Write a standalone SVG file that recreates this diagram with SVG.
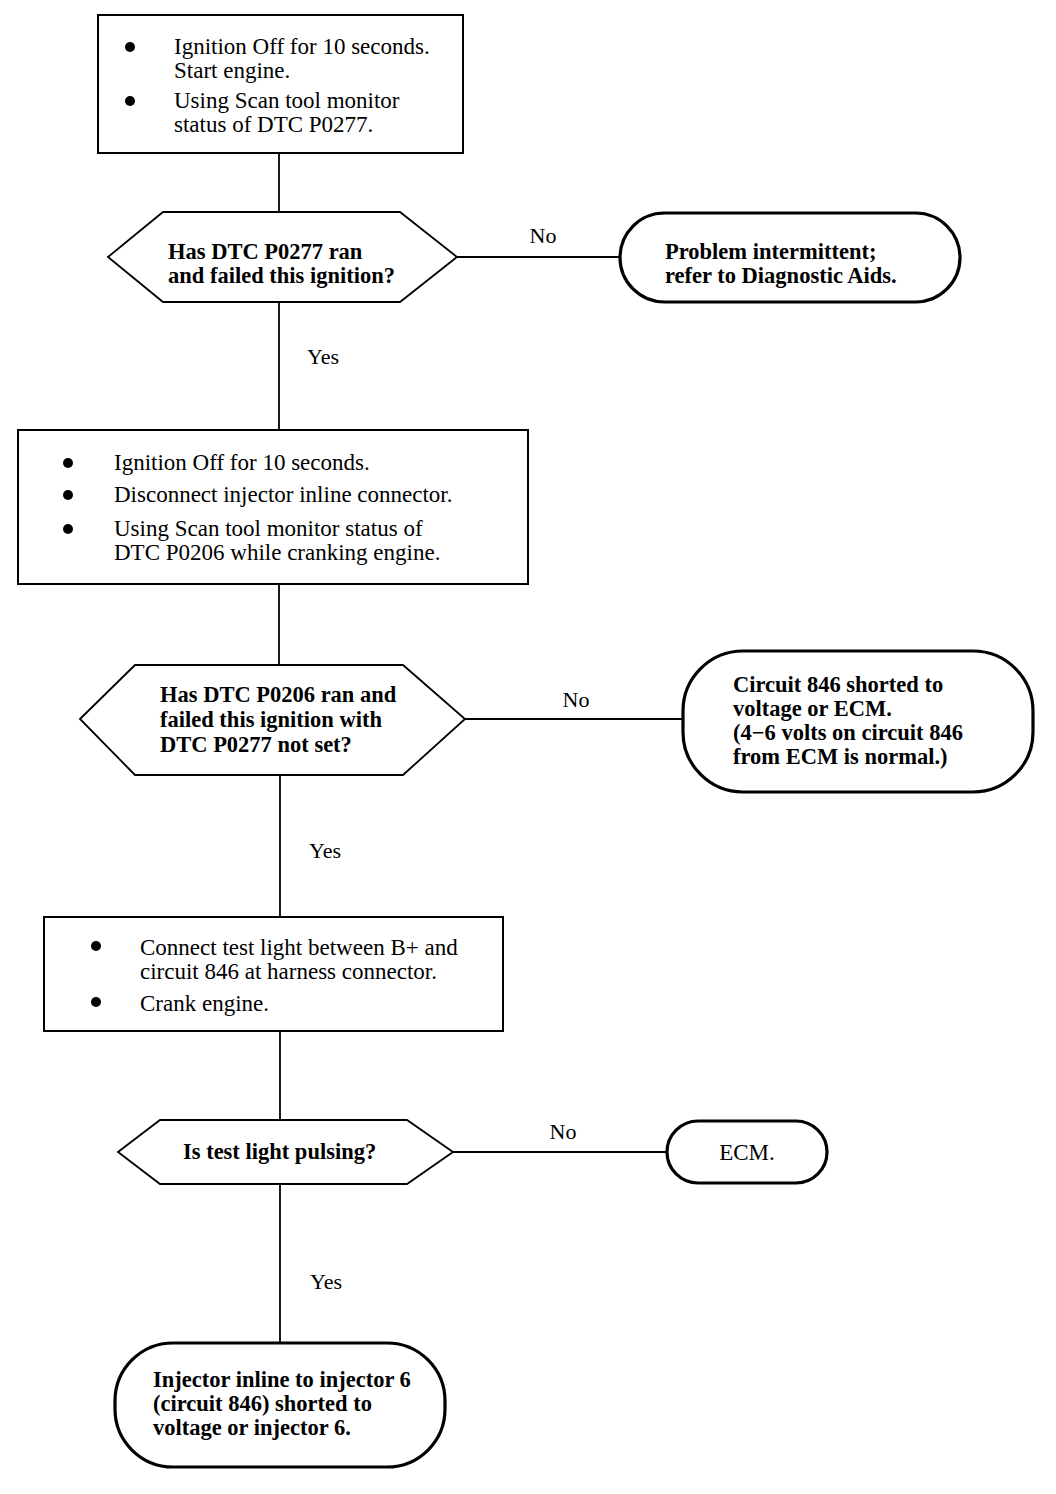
<svg xmlns="http://www.w3.org/2000/svg" width="1056" height="1494" viewBox="0 0 1056 1494">
<style>
.box{fill:#fff;stroke:#000;stroke-width:2}
.term{fill:#fff;stroke:#000;stroke-width:3.2}
.dec{fill:#fff;stroke:#000;stroke-width:1.8}
.ln{stroke:#000;stroke-width:1.8;fill:none}
text{font-family:"Liberation Serif","Times New Roman",serif;font-size:23px;fill:#000}
.b{font-weight:bold;font-size:22.5px}
.lbl{font-size:22px}
.dot{fill:#000}
</style>
<rect width="1056" height="1494" fill="#fff"/>
<g id="connectors">
<line class="ln" x1="279" y1="153" x2="279" y2="212"/>
<line class="ln" x1="457" y1="257" x2="620" y2="257"/>
<text class="lbl" x="543" y="243" text-anchor="middle">No</text>
<line class="ln" x1="279" y1="302" x2="279" y2="430"/>
<text class="lbl" x="323" y="364" text-anchor="middle">Yes</text>
<line class="ln" x1="279" y1="584" x2="279" y2="665"/>
<line class="ln" x1="465" y1="719" x2="683" y2="719"/>
<text class="lbl" x="576" y="707" text-anchor="middle">No</text>
<line class="ln" x1="280" y1="775" x2="280" y2="917"/>
<text class="lbl" x="325" y="858" text-anchor="middle">Yes</text>
<line class="ln" x1="280" y1="1031" x2="280" y2="1120"/>
<line class="ln" x1="453" y1="1152" x2="667" y2="1152"/>
<text class="lbl" x="563" y="1139" text-anchor="middle">No</text>
<line class="ln" x1="280" y1="1184" x2="280" y2="1343"/>
<text class="lbl" x="326" y="1289" text-anchor="middle">Yes</text>
</g>
<g id="step1">
<rect class="box" x="98" y="15" width="365" height="138"/>
<circle class="dot" cx="130" cy="47" r="5"/>
<circle class="dot" cx="130" cy="101" r="5"/>
<text x="174" y="54">Ignition Off for 10 seconds.</text>
<text x="174" y="78">Start engine.</text>
<text x="174" y="108">Using Scan tool monitor</text>
<text x="174" y="132">status of DTC P0277.</text>
</g>
<g id="decision1">
<polygon class="dec" points="108,257 163,212 400,212 457,257 400,302 163,302"/>
<text class="b" x="168" y="259">Has DTC P0277 ran</text>
<text class="b" x="168" y="283">and failed this ignition?</text>
</g>
<g id="result1">
<rect class="term" x="620" y="213" width="340" height="89" rx="44.5"/>
<text class="b" x="665" y="259">Problem intermittent;</text>
<text class="b" x="665" y="283">refer to Diagnostic Aids.</text>
</g>
<g id="step2">
<rect class="box" x="18" y="430" width="510" height="154"/>
<circle class="dot" cx="68" cy="463" r="5"/>
<circle class="dot" cx="68" cy="495" r="5"/>
<circle class="dot" cx="68" cy="529" r="5"/>
<text x="114" y="470">Ignition Off for 10 seconds.</text>
<text x="114" y="502">Disconnect injector inline connector.</text>
<text x="114" y="536">Using Scan tool monitor status of</text>
<text x="114" y="560">DTC P0206 while cranking engine.</text>
</g>
<g id="decision2">
<polygon class="dec" points="80,719 135,665 403,665 465,719 403,775 135,775"/>
<text class="b" x="160" y="702">Has DTC P0206 ran and</text>
<text class="b" x="160" y="727">failed this ignition with</text>
<text class="b" x="160" y="752">DTC P0277 not set?</text>
</g>
<g id="result2">
<rect class="term" x="683" y="651" width="350" height="141" rx="60"/>
<text class="b" x="733" y="692">Circuit 846 shorted to</text>
<text class="b" x="733" y="716">voltage or ECM.</text>
<text class="b" x="733" y="740">(4−6 volts on circuit 846</text>
<text class="b" x="733" y="764">from ECM is normal.)</text>
</g>
<g id="step3">
<rect class="box" x="44" y="917" width="459" height="114"/>
<circle class="dot" cx="96" cy="946" r="5"/>
<circle class="dot" cx="96" cy="1002" r="5"/>
<text x="140" y="955">Connect test light between B+ and</text>
<text x="140" y="979">circuit 846 at harness connector.</text>
<text x="140" y="1011">Crank engine.</text>
</g>
<g id="decision3">
<polygon class="dec" points="118,1152 160,1120 407,1120 453,1152 407,1184 160,1184"/>
<text class="b" x="183" y="1159">Is test light pulsing?</text>
</g>
<g id="result3">
<rect class="term" x="667" y="1121" width="160" height="62" rx="31"/>
<text x="747" y="1160" text-anchor="middle">ECM.</text>
</g>
<g id="result4">
<rect class="term" x="115" y="1343" width="330" height="124" rx="58"/>
<text class="b" x="153" y="1387">Injector inline to injector 6</text>
<text class="b" x="153" y="1411">(circuit 846) shorted to</text>
<text class="b" x="153" y="1435">voltage or injector 6.</text>
</g>
</svg>
